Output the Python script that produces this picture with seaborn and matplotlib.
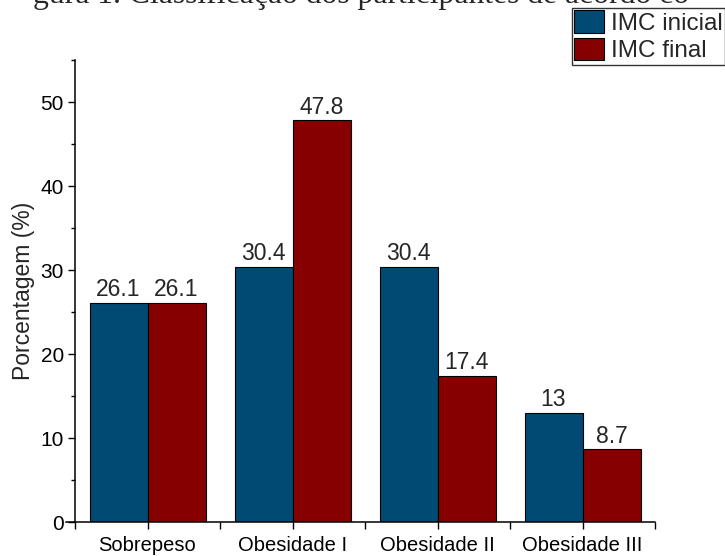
import matplotlib
matplotlib.use("Agg")
import matplotlib.pyplot as plt
from matplotlib.ticker import MultipleLocator, FixedLocator
import pandas as pd
import seaborn as sns

categorias = ["Sobrepeso", "Obesidade I", "Obesidade II", "Obesidade III"]
imc_inicial = [26.1, 30.4, 30.4, 13]
imc_final = [26.1, 47.8, 17.4, 8.7]
grupos = ["IMC inicial", "IMC final"]
y_label = "Porcentagem (%)"
legenda_titulo = "gura 1. Classificação dos participantes de acordo co"

df = pd.DataFrame({
    "categoria": categorias * 2,
    "valor": imc_inicial + imc_final,
    "grupo": [grupos[0]] * len(categorias) + [grupos[1]] * len(categorias),
})

sns.set_style("ticks")
plt.rcParams["font.family"] = ["Liberation Sans", "DejaVu Sans"]

W, H = 725, 556
fig = plt.figure(figsize=(W / 100, H / 100), dpi=100)
ax = fig.add_axes([75 / W, 1 - 522 / H, 580 / W, (522 - 60) / H])

cores = ["#004A74", "#860000"]
sns.barplot(data=df, x="categoria", y="valor", hue="grupo", palette=cores,
            width=0.8, edgecolor="black", linewidth=0.8, saturation=1,
            ax=ax, legend=True)

for cont in ax.containers:
    ax.bar_label(cont, labels=[f"{b.get_height():g}" for b in cont],
                 padding=1, fontsize=16.5)

ax.set_xlim(-0.5, 3.5)
ax.set_ylim(0, 55)
ax.yaxis.set_major_locator(MultipleLocator(10))
ax.yaxis.set_minor_locator(FixedLocator([5, 15, 25, 35, 45, 55]))
ax.xaxis.set_minor_locator(FixedLocator([-0.5, 0.5, 1.5, 2.5, 3.5]))
ax.tick_params(axis="both", which="major", direction="out", length=5,
               width=1, labelsize=15, color="black", labelcolor="black")
ax.tick_params(axis="both", which="minor", direction="out", length=3,
               width=1, color="black")
ax.tick_params(axis="x", which="both", length=5)
ax.tick_params(axis="x", which="major", pad=5, labelsize=14.5)
ax.tick_params(axis="y", which="major", pad=3)
ax.set_xlabel("")
ax.set_ylabel(y_label, fontsize=16.5, labelpad=4)

sns.despine(ax=ax)
for s in ("left", "bottom"):
    ax.spines[s].set_linewidth(1.1)
    ax.spines[s].set_color("black")
ax.spines["bottom"].set_bounds(-0.56, 3.5)

handles, labels = ax.get_legend_handles_labels()
ax.get_legend().remove()
leg = fig.legend(handles, labels, loc="upper left",
                 bbox_to_anchor=(572 / W, 1 - 8 / H), frameon=True,
                 fancybox=False, edgecolor="black", fontsize=17.5,
                 handlelength=1.2, handleheight=1.05, handletextpad=0.3,
                 borderpad=0.1, labelspacing=0.12, borderaxespad=0)
leg.get_frame().set_linewidth(1.0)
leg.set_zorder(10)

fig.text(33 / W, 1 - 3 / H, legenda_titulo, family="Liberation Serif",
         fontsize=22.8, va="baseline", ha="left", zorder=1)

fig.savefig("out.png", dpi=100)
